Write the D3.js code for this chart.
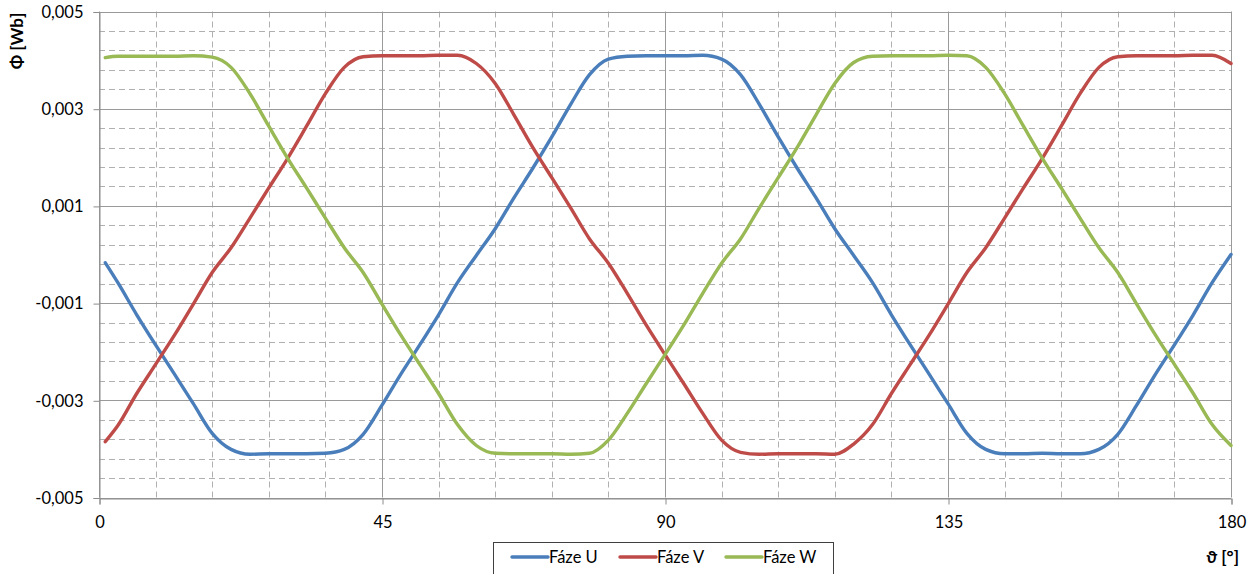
<!DOCTYPE html>
<html>
  <head>
    <meta http-equiv="Content-Type" content="text/html; charset=UTF-8" />
    <title>Fáze U, V, W</title>
    <style>
      body { margin: 0; background: #fff; }
      svg text { font-family: Lato, Calibri, 'Open Sans', sans-serif; fill: #000; }
    </style>
  </head>
  <body>
    <div id="chart"></div>
    <script src="https://cdnjs.cloudflare.com/ajax/libs/d3/7.8.5/d3.min.js"></script>
    <script>
// angle [°]
const theta = [1, 3, 6, 9, 12, 15, 18, 21, 24, 27, 30, 33, 36, 39, 42, 45, 48, 51, 54, 57, 60,
  63, 66, 69, 72, 75, 78, 81, 84, 87, 90, 93, 96, 99, 102, 105, 108, 111, 114, 117, 120,
  123, 126, 129, 132, 135, 138, 141, 144, 147, 150, 153, 156, 159, 162, 165, 168, 171, 174, 177, 180];

// flux [mWb]
const fazeU = [-0.17, -0.58, -1.24, -1.86, -2.46, -3.07, -3.68, -4.01, -4.11, -4.10, -4.10, -4.10, -4.09, -4.01, -3.70, -3.10, -2.46, -1.86, -1.24, -0.58, -0.02,
  0.53, 1.17, 1.78, 2.42, 3.09, 3.70, 4.02, 4.08, 4.09, 4.09, 4.09, 4.10, 4.02, 3.70, 3.09, 2.42, 1.78, 1.17, 0.53, -0.02,
  -0.58, -1.24, -1.86, -2.46, -3.07, -3.68, -4.01, -4.10, -4.10, -4.09, -4.10, -4.10, -4.01, -3.70, -3.10, -2.46, -1.86, -1.24, -0.58, 0.00];

const fazeV = [-3.85, -3.52, -2.86, -2.26, -1.66, -1.02, -0.37, 0.14, 0.75, 1.37, 1.98, 2.64, 3.31, 3.85, 4.07, 4.09, 4.09, 4.09, 4.10, 4.10, 3.93,
  3.52, 2.87, 2.20, 1.58, 0.96, 0.32, -0.18, -0.80, -1.45, -2.06, -2.66, -3.27, -3.82, -4.07, -4.11, -4.10, -4.10, -4.10, -4.11, -3.90,
  -3.50, -2.86, -2.26, -1.66, -1.02, -0.37, 0.14, 0.75, 1.37, 1.98, 2.64, 3.31, 3.85, 4.07, 4.09, 4.09, 4.09, 4.10, 4.10, 3.93];

const fazeW = [4.05, 4.08, 4.08, 4.08, 4.08, 4.09, 4.06, 3.85, 3.31, 2.64, 1.98, 1.37, 0.75, 0.14, -0.37, -1.02, -1.66, -2.26, -2.86, -3.50, -3.93,
  -4.09, -4.10, -4.10, -4.10, -4.11, -4.09, -3.82, -3.27, -2.66, -2.06, -1.45, -0.80, -0.18, 0.32, 0.96, 1.58, 2.20, 2.87, 3.52, 3.95,
  4.08, 4.09, 4.09, 4.09, 4.10, 4.09, 3.85, 3.31, 2.64, 1.98, 1.37, 0.75, 0.14, -0.37, -1.02, -1.66, -2.26, -2.86, -3.50, -3.93];

const series = [
  {name: 'Fáze U', values: fazeU, color: '#4a7ebb'},
  {name: 'Fáze V', values: fazeV, color: '#be4b48'},
  {name: 'Fáze W', values: fazeW, color: '#98b954'}
];

const xTicks = [0, 45, 90, 135, 180];
const yTicks = [-0.005, -0.003, -0.001, 0.001, 0.003, 0.005];
const yTickLabels = ['-0,005', '-0,003', '-0,001', '0,001', '0,003', '0,005'];

const W = 1257, H = 574,
      plotL = 99, plotR = 1231, plotT = 11.5, plotB = 497.5;

const svg = d3.select('#chart').append('svg')
  .attr('width', W)
  .attr('height', H);

const x = d3.scaleLinear().domain([0, 180]).range([plotL, plotR]),
      y = d3.scaleLinear().domain([-0.005, 0.005]).range([plotB, plotT]);

// minor grid (dashed)
const minorY = d3.range(0, 26).map(k => -0.005 + k * 0.0004).filter((d, k) => k % 5 !== 0),
      minorX = d3.range(0, 181, 9).filter(d => d % 45 !== 0);

const grid = svg.append('g');
grid.selectAll('.minor-y')
  .data(minorY)
  .enter().append('line')
    .attr('x1', plotL).attr('x2', plotR)
    .attr('y1', d => Math.round(y(d)) + 0.5).attr('y2', d => Math.round(y(d)) + 0.5)
    .attr('stroke', '#b0b0b0')
    .attr('stroke-dasharray', '6,4');
grid.selectAll('.minor-x')
  .data(minorX)
  .enter().append('line')
    .attr('x1', d => Math.round(x(d)) + 0.5).attr('x2', d => Math.round(x(d)) + 0.5)
    .attr('y1', plotT).attr('y2', plotB)
    .attr('stroke', '#b0b0b0')
    .attr('stroke-dasharray', '6,4');

// major grid (solid)
grid.selectAll('.major-y')
  .data(yTicks)
  .enter().append('line')
    .attr('x1', plotL).attr('x2', plotR)
    .attr('y1', d => Math.round(y(d)) + 0.5).attr('y2', d => Math.round(y(d)) + 0.5)
    .attr('stroke', '#9a9a9a');
grid.selectAll('.major-x')
  .data(xTicks)
  .enter().append('line')
    .attr('x1', d => Math.round(x(d)) + 0.5).attr('x2', d => Math.round(x(d)) + 0.5)
    .attr('y1', plotT).attr('y2', plotB)
    .attr('stroke', '#9a9a9a');

// axes
const yAxis = d3.axisLeft(y)
  .tickValues(yTicks)
  .tickFormat((d, i) => yTickLabels[i])
  .tickSize(6)
  .tickPadding(10);
const xAxis = d3.axisBottom(x)
  .tickValues(xTicks)
  .tickFormat(d => d)
  .tickSize(6)
  .tickPadding(12);

const gy = svg.append('g')
  .attr('transform', `translate(${plotL + 0.5},0.5)`)
  .call(yAxis);
const gx = svg.append('g')
  .attr('transform', `translate(0.5,${Math.round(plotB) + 0.5})`)
  .call(xAxis);
[gx, gy].forEach(g => {
  g.select('.domain').attr('stroke', '#8c8c8c');
  g.selectAll('.tick line').attr('stroke', '#8c8c8c');
  g.selectAll('.tick text')
    .style('font-family', 'Lato, Calibri, sans-serif')
    .style('font-size', '16.5px')
    .attr('fill', '#000');
});

// curves
const line = d3.line()
  .x((d, i) => x(theta[i]))
  .y(d => y(d / 1000))
  .curve(d3.curveMonotoneX);

svg.append('g')
  .selectAll('.faze')
  .data(series)
  .enter().append('path')
    .attr('class', 'faze')
    .attr('d', d => line(d.values))
    .attr('fill', 'none')
    .attr('stroke', d => d.color)
    .attr('stroke-width', 3.4)
    .attr('stroke-linejoin', 'round')
    .attr('stroke-linecap', 'round');

// axis titles
svg.append('text')
  .attr('transform', 'translate(23,41) rotate(-90)')
  .attr('text-anchor', 'middle')
  .style('font-size', '17px')
  .style('font-weight', 'bold')
  .text('Φ [Wb]');
svg.append('text')
  .attr('x', 1239)
  .attr('y', 563)
  .attr('text-anchor', 'end')
  .style('font-size', '17px')
  .style('font-weight', 'bold')
  .text('ϑ [°]');

// legend
const legend = svg.append('g');
legend.append('rect')
  .attr('x', 493.5).attr('y', 542.5)
  .attr('width', 340).attr('height', 40)
  .attr('fill', '#fff')
  .attr('stroke', '#404040');
const legendX = [512, 620, 726];
const item = legend.selectAll('.item')
  .data(series)
  .enter().append('g')
    .attr('transform', (d, i) => `translate(${legendX[i]},557)`);
item.append('line')
  .attr('x1', 0).attr('x2', 36)
  .attr('stroke', d => d.color)
  .attr('stroke-width', 3.4)
  .attr('stroke-linecap', 'round');
item.append('text')
  .attr('x', 37)
  .attr('dy', '0.35em')
  .style('font-size', '16.5px')
  .text(d => d.name);
    </script>
  </body>
</html>
